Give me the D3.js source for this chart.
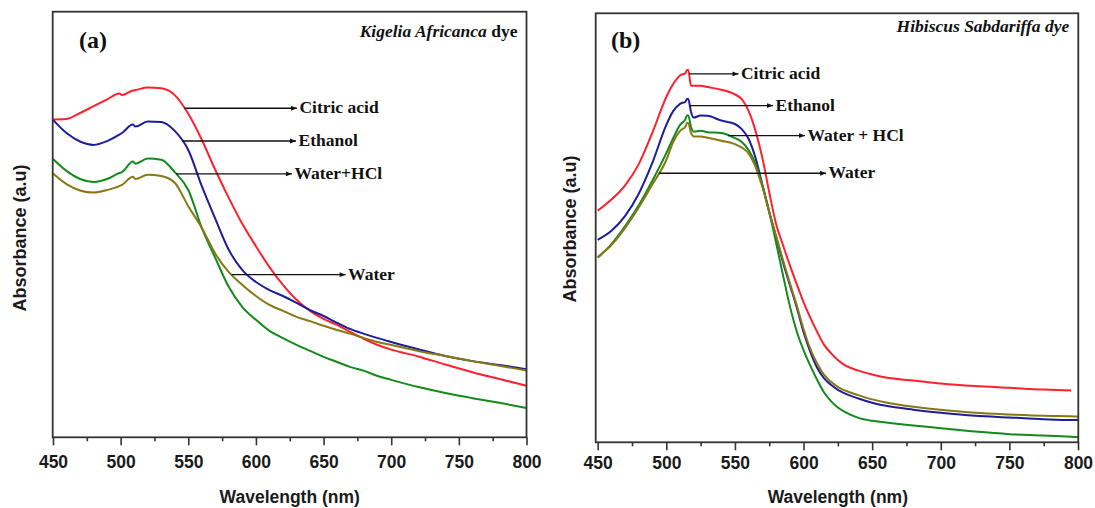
<!DOCTYPE html>
<html>
<head>
<meta charset="utf-8">
<script src="https://cdn.jsdelivr.net/npm/d3@7"></script>
<style>
  html, body { margin: 0; padding: 0; background: #fff; }
  svg { display: block; }
</style>
</head>
<body>
<svg id="chart" width="1095" height="508"></svg>
<script>
// ---------- Panel (a): Kigelia Africanca dye ----------
const wavelengthsA = [450,460,470,480,490,499,501,509,511,520,530,540,550,560,570,580,590,600,610,620,630,640,650,660,670,680,690,700,720,740,760,780,800];
const citricA  = [0.747,0.748,0.762,0.778,0.794,0.808,0.804,0.815,0.816,0.822,0.820,0.804,0.760,0.699,0.628,0.562,0.501,0.449,0.400,0.358,0.323,0.297,0.278,0.264,0.247,0.231,0.217,0.206,0.190,0.171,0.153,0.137,0.121];
const ethanolA = [0.746,0.715,0.695,0.687,0.696,0.711,0.715,0.735,0.730,0.742,0.741,0.720,0.675,0.590,0.513,0.440,0.393,0.365,0.346,0.332,0.316,0.299,0.285,0.269,0.254,0.243,0.233,0.224,0.207,0.191,0.179,0.170,0.160];
const waterHclA = [0.654,0.626,0.607,0.600,0.607,0.621,0.623,0.648,0.643,0.655,0.652,0.623,0.581,0.492,0.421,0.353,0.306,0.276,0.250,0.233,0.217,0.203,0.189,0.177,0.165,0.156,0.144,0.135,0.118,0.104,0.092,0.081,0.069];
const waterA   = [0.620,0.595,0.580,0.575,0.581,0.590,0.593,0.612,0.607,0.617,0.614,0.598,0.543,0.492,0.431,0.388,0.358,0.332,0.311,0.297,0.283,0.273,0.262,0.252,0.243,0.233,0.224,0.217,0.203,0.191,0.179,0.168,0.157];

// ---------- Panel (b): Hibiscus Sabdariffa dye ----------
const wavelengthsB = [450,460,470,480,490,500,505,510,514,515,516,518,520,525,530,540,550,555,560,565,570,575,580,585,590,595,600,605,610,615,620,625,630,640,650,660,680,700,725,750,775,795,800];
const citricB  = [0.540,0.566,0.599,0.649,0.723,0.805,0.835,0.855,0.861,0.868,0.868,0.831,0.831,0.831,0.828,0.822,0.811,0.800,0.772,0.726,0.663,0.583,0.509,0.460,0.413,0.369,0.327,0.290,0.257,0.227,0.208,0.192,0.180,0.167,0.158,0.151,0.144,0.137,0.131,0.127,0.123,0.121,null];
const ethanolB = [0.472,0.493,0.528,0.580,0.653,0.740,0.772,0.789,0.794,0.800,0.800,0.770,0.757,0.762,0.761,0.750,0.742,0.730,0.707,0.663,0.600,0.537,0.479,0.420,0.367,0.315,0.257,0.210,0.173,0.149,0.134,0.122,0.114,0.102,0.092,0.085,0.076,0.069,0.062,0.058,0.054,0.052,0.052];
const waterHclB = [0.430,0.462,0.504,0.553,0.611,0.674,0.709,0.740,0.754,0.762,0.762,0.735,0.724,0.726,0.723,0.721,0.709,0.700,0.681,0.649,0.600,0.537,0.465,0.390,0.318,0.259,0.215,0.178,0.145,0.116,0.096,0.081,0.071,0.057,0.050,0.046,0.039,0.033,0.025,0.019,0.016,0.013,0.012];
const waterB   = [0.432,0.460,0.500,0.548,0.602,0.658,0.700,0.726,0.736,0.744,0.744,0.721,0.713,0.713,0.710,0.703,0.695,0.687,0.673,0.642,0.595,0.537,0.481,0.425,0.371,0.320,0.264,0.217,0.183,0.157,0.141,0.129,0.121,0.110,0.100,0.093,0.083,0.076,0.069,0.065,0.062,0.061,0.060];

// Axis ticks
const xMajorTicks = [450,500,550,600,650,700,750,800];
const xMinorTicks = [475,525,575,625,675,725,775];

// Series labels for each panel
const labelsA = ["Citric acid", "Ethanol", "Water+HCl", "Water"];
const labelsB = ["Citric acid", "Ethanol", "Water + HCl", "Water"];
// Wavelengths where each label's leader starts (on the curve) and ends
const leaderStartA = [547, 545.3, 541, 582];
const leaderEndA   = [630.3, 629.6, 626.6, 666.3];
const leaderStartB = [516.5, 517, 545, 494.5];
const leaderEndB   = [552.6, 577.8, 601.1, 616.4];

const seriesColors = ["#ff1f2d", "#1d1d98", "#138a1a", "#877814"];

const svg = d3.select("#chart");

svg.append("defs").append("marker")
  .attr("id", "arrowHead")
  .attr("viewBox", "0 0 10 10")
  .attr("refX", 10).attr("refY", 5)
  .attr("markerUnits", "userSpaceOnUse")
  .attr("markerWidth", 8).attr("markerHeight", 6)
  .attr("orient", "auto")
  .append("path").attr("d", "M0,1 L10,5 L0,9 Z").attr("fill", "#111");

function drawPanel(cfg) {
  const g = svg.append("g");
  const x = d3.scaleLinear().domain([450, 800]).range([cfg.x450, cfg.x800]);
  const y = d3.scaleLinear().domain([0, 1]).range([cfg.bottom, cfg.top]);

  // spectra
  const line = d3.line()
    .defined(d => d[1] != null)
    .x(d => x(d[0]))
    .y(d => y(d[1]))
    .curve(d3.curveMonotoneX);

  cfg.series.forEach((vals, i) => {
    const pts = cfg.wavelengths.map((w, k) => [w, vals[k]]);
    g.append("path")
      .datum(pts)
      .attr("d", line)
      .attr("fill", "none")
      .attr("stroke", seriesColors[i])
      .attr("stroke-width", 2)
      .attr("stroke-linejoin", "round");
  });

  // frame
  g.append("rect")
    .attr("x", cfg.left).attr("y", cfg.top)
    .attr("width", cfg.right - cfg.left)
    .attr("height", cfg.bottom - cfg.top)
    .attr("fill", "none")
    .attr("stroke", "#333")
    .attr("stroke-width", 1.8);

  // bottom axis: major and minor ticks
  const axisG = g.append("g").attr("transform", `translate(0,${cfg.bottom})`);
  axisG.call(d3.axisBottom(x).tickValues(xMajorTicks).tickSize(8).tickPadding(cfg.tickPad).tickFormat(d3.format("d")))
    .call(a => a.select(".domain").remove());
  axisG.selectAll(".tick line").attr("stroke", "#333").attr("stroke-width", 1.6);
  axisG.selectAll(".tick text")
    .attr("fill", "#1a1a1a")
    .style("font-family", "'Liberation Sans', Arial, sans-serif")
    .style("font-weight", "bold")
    .style("font-size", "17.5px");

  const minorG = g.append("g").attr("transform", `translate(0,${cfg.bottom})`);
  minorG.call(d3.axisBottom(x).tickValues(xMinorTicks).tickSize(4).tickFormat(""))
    .call(a => a.select(".domain").remove());
  minorG.selectAll(".tick line").attr("stroke", "#333").attr("stroke-width", 1.6);

  // axis titles
  g.append("text")
    .attr("x", (cfg.x450 + cfg.x800) / 2)
    .attr("y", cfg.xTitleY)
    .attr("text-anchor", "middle")
    .style("font-family", "'Liberation Sans', Arial, sans-serif")
    .style("font-weight", "bold")
    .style("font-size", "17.5px")
    .attr("fill", "#1a1a1a")
    .text("Wavelength (nm)");

  g.append("text")
    .attr("transform", `translate(${cfg.yTitleX},${cfg.yTitleY}) rotate(-90)`)
    .attr("text-anchor", "middle")
    .style("font-family", "'Liberation Sans', Arial, sans-serif")
    .style("font-weight", "bold")
    .style("font-size", "18px")
    .attr("fill", "#1a1a1a")
    .text("Absorbance (a.u)");

  // panel tag and dye name
  g.append("text")
    .attr("x", cfg.tagX).attr("y", 48)
    .style("font-family", "'Liberation Serif', 'Times New Roman', serif")
    .style("font-weight", "bold")
    .style("font-size", "24px")
    .attr("fill", "#111")
    .text(cfg.tag);

  const title = g.append("text")
    .attr("x", cfg.right - 9).attr("y", cfg.titleY)
    .attr("text-anchor", "end")
    .style("font-family", "'Liberation Serif', 'Times New Roman', serif")
    .style("font-weight", "bold")
    .style("font-size", "17.5px")
    .attr("fill", "#111");
  cfg.titleParts.forEach(p => {
    title.append("tspan").style("font-style", p.italic ? "italic" : "normal").text(p.text);
  });

  // labelled leaders from each curve
  cfg.labels.forEach((lab, i) => {
    const vals = cfg.series[i];
    const w0 = cfg.leaderStart[i];
    const k = d3.bisectRight(cfg.wavelengths, w0) - 1;
    const t = (w0 - cfg.wavelengths[k]) / (cfg.wavelengths[k + 1] - cfg.wavelengths[k]);
    const v = vals[k] + t * (vals[k + 1] - vals[k]);
    const yy = y(v);
    g.append("line")
      .attr("x1", x(w0)).attr("y1", yy)
      .attr("x2", x(cfg.leaderEnd[i])).attr("y2", yy)
      .attr("stroke", "#111")
      .attr("stroke-width", 1.3)
      .attr("marker-end", "url(#arrowHead)");
    g.append("text")
      .attr("x", x(cfg.leaderEnd[i]) + 2.5)
      .attr("y", yy + 5)
      .style("font-family", "'Liberation Serif', 'Times New Roman', serif")
      .style("font-weight", "bold")
      .style("font-size", "17.5px")
      .attr("fill", "#111")
      .text(lab);
  });
}

drawPanel({
  wavelengths: wavelengthsA,
  series: [citricA, ethanolA, waterHclA, waterA],
  labels: labelsA, leaderStart: leaderStartA, leaderEnd: leaderEndA,
  left: 52.7, right: 526.5, top: 11.7, bottom: 437.3,
  x450: 53, x800: 526.5,
  tickPad: 10.5, xTitleY: 502.5,
  yTitleX: 26, yTitleY: 238,
  tag: "(a)", tagX: 79, titleY: 37,
  titleParts: [{ text: "Kigelia Africanca", italic: true }, { text: " dye", italic: false }]
});

drawPanel({
  wavelengths: wavelengthsB,
  series: [citricB, ethanolB, waterHclB, waterB],
  labels: labelsB, leaderStart: leaderStartB, leaderEnd: leaderEndB,
  left: 595.7, right: 1078.3, top: 13.3, bottom: 442.3,
  x450: 597.7, x800: 1078,
  tickPad: 6.3, xTitleY: 502.5,
  yTitleX: 576, yTitleY: 229,
  tag: "(b)", tagX: 611, titleY: 32,
  titleParts: [{ text: "Hibiscus Sabdariffa dye", italic: true }]
});
</script>
</body>
</html>
